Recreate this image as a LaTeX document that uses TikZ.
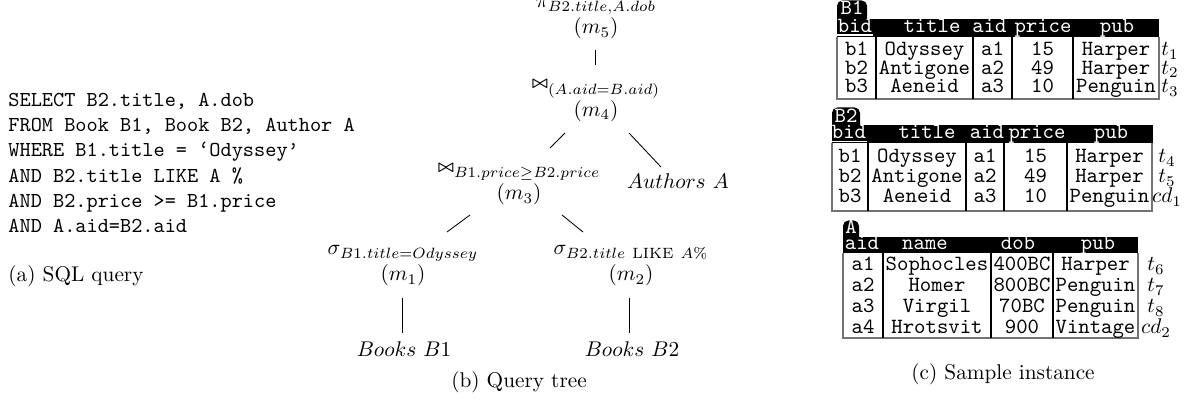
\documentclass[tikz,border=0pt]{standalone}
\newcommand{\jn}{\mathbin{\raisebox{1.2pt}{\mbox{\boldmath$\scriptstyle\bowtie$}}}}
\begin{document}
\begin{tikzpicture}[x=0.47pt,y=-0.47pt,
  lbl/.style={inner sep=0pt, anchor=base},
  sql/.style={inner sep=0pt, anchor=base west, font=\ttfamily},
  cell/.style={inner sep=0pt, anchor=base, font=\fontsize{10.2}{12}\selectfont\ttfamily},
  hdr/.style={inner sep=0pt, anchor=base, font=\fontsize{10.2}{12}\selectfont\ttfamily, text=white},
  edge/.style={line width=0.4pt},
  outer/.style={draw=black!55, line width=0.9pt},
  divider/.style={line width=0.5pt},
  tag/.style={rounded corners=2.5pt}]
\useasboundingbox (0,0) rectangle (1198,403);

% (a) SQL query
\node[sql] (q1) at (8,106.5) {SELECT B2.title, A.dob};
\node[sql] (q2) at (8,131.7) {FROM Book B1, Book B2, Author A};
\node[sql] (q3) at (8,156.9) {WHERE B1.title = ‘Odyssey’};
\node[sql] (q4) at (8,182.1) {AND B2.title LIKE A \%};
\node[sql] (q5) at (8,207.3) {AND B2.price >= B1.price};
\node[sql] (q6) at (8,232.5) {AND A.aid=B2.aid};
\node[lbl, anchor=base west] (capa) at (8,282) {(a) SQL query};

% (b) Query tree
\node[lbl] (m5op) at (596,8) {$\pi_{B2.title,A.dob}$};
\node[lbl] (m5) at (596,34) {$(m_5)$};
\node[lbl] (m4op) at (596,90.5) {$\jn_{(A.aid=B.aid)}$};
\node[lbl] (m4) at (596,116.5) {$(m_4)$};
\node[lbl] (m3op) at (519,174) {$\jn_{B1.price\geq B2.price}$};
\node[lbl] (m3) at (519,200) {$(m_3)$};
\node[lbl] (authA) at (678,189) {$Authors\ A$};
\node[lbl] (m1op) at (403,255) {$\sigma_{B1.title=Odyssey}$};
\node[lbl] (m1) at (403,281) {$(m_1)$};
\node[lbl] (m2op) at (631,255) {$\sigma_{B2.title\ \mathrm{LIKE}\ A\%}$};
\node[lbl] (m2) at (631,281) {$(m_2)$};
\node[lbl] (bk1) at (404,357) {$Books\ B1$};
\node[lbl] (bk2) at (632,357) {$Books\ B2$};
\node[lbl] (capb) at (519,388) {(b) Query tree};

\coordinate (e54a) at (595.5,50);  \coordinate (e54b) at (595.5,65);
\coordinate (e43a) at (565,133);   \coordinate (e43b) at (550,148);
\coordinate (e4Aa) at (629,133);   \coordinate (e4Ab) at (661,167);
\coordinate (e31a) at (470,215);   \coordinate (e31b) at (447,232);
\coordinate (e32a) at (562,215);   \coordinate (e32b) at (583,232);
\coordinate (e1Ba) at (402.5,298); \coordinate (e1Bb) at (402.5,333);
\coordinate (e2Ba) at (629.5,298); \coordinate (e2Bb) at (629.5,333);
\draw[edge] (e54a) -- (e54b);
\draw[edge] (e43a) -- (e43b);
\draw[edge] (e4Aa) -- (e4Ab);
\draw[edge] (e31a) -- (e31b);
\draw[edge] (e32a) -- (e32b);
\draw[edge] (e1Ba) -- (e1Bb);
\draw[edge] (e2Ba) -- (e2Bb);

% (c) Sample instance -- table B1
\fill[tag] (837,26) rectangle (867,0.5);
\node[hdr] (tB1) at (852,15) {B1};
\fill (837,19) rectangle (1159,37);
\node[hdr] (hB1a) at (855,32.5) {bid};
\node[hdr] (hB1b) at (932,32.5) {title};
\node[hdr] (hB1c) at (989.5,32.5) {aid};
\node[hdr] (hB1d) at (1043,32.5) {price};
\node[hdr] (hB1e) at (1117,32.5) {pub};
\draw[white, line width=0.5pt] (837,35) -- (873,35);
\draw[outer] (837,37) -- (837,99) -- (1159,99) -- (1159,37);
\foreach \x in {876,973,1012,1073} \draw[divider] (\x,37) -- (\x,99);
\foreach \y/\a/\b/\c/\d/\e/\t [count=\i] in
  {56/b1/Odyssey/a1/15/Harper/t_1, 74.5/b2/Antigone/a2/49/Harper/t_2, 93/b3/Aeneid/a3/10/Penguin/t_3}{
  \node[cell] (B1r\i a) at (856.5,\y) {\a};
  \node[cell] (B1r\i b) at (924.5,\y) {\b};
  \node[cell] (B1r\i c) at (992.5,\y) {\c};
  \node[cell] (B1r\i d) at (1042.5,\y) {\d};
  \node[cell] (B1r\i e) at (1116,\y) {\e};
  \node[lbl] (B1r\i t) at (1170,\y) {$\t$};
}

% table B2
\fill[tag] (832,132) rectangle (860,107.5);
\node[hdr] (tB2) at (846,123) {B2};
\fill (832,125) rectangle (1153,143);
\node[hdr] (hB2a) at (849,139) {bid};
\node[hdr] (hB2b) at (927,139) {title};
\node[hdr] (hB2c) at (987,139) {aid};
\node[hdr] (hB2d) at (1037,139) {price};
\node[hdr] (hB2e) at (1111,139) {pub};
\draw[white, line width=0.5pt] (832,141.5) -- (867,141.5);
\draw[outer] (832,143) -- (832,211) -- (1152,211) -- (1152,143);
\foreach \x in {868,966,1004,1067} \draw[divider] (\x,143) -- (\x,211);
\foreach \y/\a/\b/\c/\d/\e/\t [count=\i] in
  {163/b1/Odyssey/a1/15/Harper/t_4, 183/b2/Antigone/a2/49/Harper/t_5, 203/b3/Aeneid/a3/10/Penguin/cd_1}{
  \node[cell] (B2r\i a) at (850,\y) {\a};
  \node[cell] (B2r\i b) at (917,\y) {\b};
  \node[cell] (B2r\i c) at (985,\y) {\c};
  \node[cell] (B2r\i d) at (1035.5,\y) {\d};
  \node[cell] (B2r\i e) at (1109.5,\y) {\e};
  \node[lbl] (B2r\i t) at (1167,\y) {$\t$};
}

% table A
\fill[tag] (843,244) rectangle (859,220.5);
\node[hdr] (tA) at (851,234) {A};
\fill (843,237) rectangle (1138,253);
\node[hdr] (hAa) at (862,250) {aid};
\node[hdr] (hAb) at (925,250) {name};
\node[hdr] (hAc) at (1018,250) {dob};
\node[hdr] (hAd) at (1098,250) {pub};
\draw[outer] (843,253) -- (843,338) -- (1138,338) -- (1138,253);
\foreach \x in {883,991,1053} \draw[divider] (\x,253) -- (\x,338);
\foreach \y/\a/\b/\c/\d/\t [count=\i] in
  {271/a1/Sophocles/400BC/Harper/t_6, 292/a2/Homer/800BC/Penguin/t_7,
   313/a3/Virgil/70BC/Penguin/t_8, 334/a4/Hrotsvit/900/Vintage/cd_2}{
  \node[cell] (Ar\i a) at (863,\y) {\a};
  \node[cell] (Ar\i b) at (937,\y) {\b};
  \node[cell] (Ar\i c) at (1022,\y) {\c};
  \node[cell] (Ar\i d) at (1095.5,\y) {\d};
  \node[lbl] (Ar\i t) at (1156,\y) {$\t$};
}
\node[lbl] (capc) at (1003,380) {(c) Sample instance};
\end{tikzpicture}
\end{document}
